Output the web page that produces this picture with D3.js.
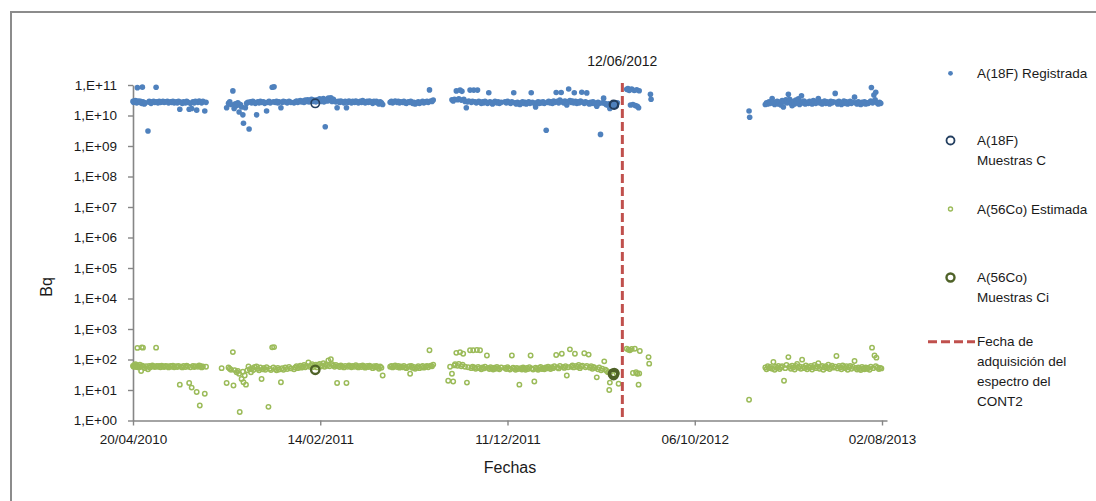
<!DOCTYPE html>
<html>
<head>
<meta charset="utf-8">
<script src="https://cdn.jsdelivr.net/npm/d3@7"></script>
<style>
  html, body { margin: 0; padding: 0; background: #ffffff; }
  svg text { font-family: "Liberation Sans", Arial, sans-serif; fill: #1a1a1a; }
</style>
</head>
<body>
<svg id="chart" width="1096" height="501"></svg>
<script>
// Measurement days are counted from the first day of the axis (20/04/2010).
const startDate = "20/04/2010";
const endDay = 1208;

const xTickLabels = ["20/04/2010", "14/02/2011", "11/12/2011", "06/10/2012", "02/08/2013"];
const yTickValues = [1e0, 1e1, 1e2, 1e3, 1e4, 1e5, 1e6, 1e7, 1e8, 1e9, 1e10, 1e11];
const yTickLabels = ["1,E+00", "1,E+01", "1,E+02", "1,E+03", "1,E+04", "1,E+05",
                     "1,E+06", "1,E+07", "1,E+08", "1,E+09", "1,E+10", "1,E+11"];

const spectrumDate = "12/06/2012";

// A(18F) Registrada: [day, Bq]
const registrada = [
  [0,2.9e10],[1,2.7e10],[2,3.0e10],[3,2.8e10],[4,3.1e10],[5,2.9e10],[6,2.6e10],[7,8.2e10],[8,2.8e10],[9,3.0e10],
  [11,2.7e10],[12,2.9e10],[14,2.5e10],[15,8.5e10],[16,2.8e10],[18,2.4e10],[20,2.6e10],[24,3.1e9],[26,2.9e10],[27,2.7e10],
  [29,2.5e10],[31,2.8e10],[33,2.9e10],[35,2.7e10],[37,8.4e10],[38,2.8e10],[40,2.6e10],[42,2.9e10],[44,2.7e10],[46,2.8e10],
  [48,2.9e10],[50,2.7e10],[52,2.8e10],[55,2.9e10],[57,2.6e10],[60,2.8e10],[62,2.7e10],[64,2.9e10],[66,2.6e10],[69,2.8e10],
  [71,2.6e10],[73,2.9e10],[75,1.6e10],[77,2.7e10],[79,2.5e10],[81,2.8e10],[84,2.6e10],[86,2.9e10],[88,2.7e10],[90,1.6e10],
  [92,2.5e10],[94,1.7e10],[96,2.8e10],[98,2.6e10],[100,2.9e10],[102,1.5e10],[104,2.7e10],[106,3.0e10],[108,2.8e10],[110,2.6e10],
  [112,2.9e10],[115,1.4e10],[117,2.7e10],
  [150,1.8e10],[153,2.5e10],[155,2.8e10],[157,2.3e10],[160,6.4e10],[162,1.7e10],[164,2.4e10],[166,2.1e10],[168,2.6e10],[170,1.3e10],
  [172,2.3e10],[174,1.9e10],[176,1.05e10],[177,5.6e9],[180,1.8e10],[182,2.5e10],[184,2.7e10],[186,3.6e9],[188,2.8e10],[190,2.6e10],
  [192,2.9e10],[194,2.7e10],[196,2.5e10],[198,1.05e10],[200,2.8e10],[202,2.6e10],[204,2.9e10],[206,2.7e10],[209,2.8e10],[211,2.5e10],
  [214,1.4e10],[216,2.7e10],[218,2.9e10],[220,2.6e10],[223,8.4e10],[225,2.8e10],[226,8.7e10],[228,2.7e10],[230,2.9e10],[232,2.6e10],
  [234,2.8e10],[237,1.8e10],[239,2.7e10],[241,2.9e10],[244,2.8e10],[247,2.6e10],[250,2.9e10],[253,2.7e10],[258,2.6e10],[260,2.8e10],
  [262,3.0e10],[264,2.7e10],[266,2.9e10],[268,3.1e10],[270,2.8e10],[272,3.0e10],[274,2.7e10],[276,3.2e10],[278,2.9e10],[280,3.3e10],
  [282,2.8e10],[284,3.1e10],[286,3.4e10],[288,2.9e10],[290,3.2e10],[293,2.8e10],[295,3.3e10],[297,3.0e10],[299,3.5e10],[301,2.9e10],
  [303,3.2e10],[305,3.6e10],[306,2.8e10],[308,4.3e9],[309,3.3e10],[311,3.0e10],[313,3.7e10],[315,3.1e10],[317,3.8e10],[319,2.9e10],
  [321,3.4e10],[323,3.0e10],[325,2.8e10],[327,1.8e10],[329,2.9e10],[331,2.7e10],[333,3.0e10],[335,2.8e10],[338,2.6e10],[340,2.9e10],
  [342,1.8e10],[344,2.7e10],[346,3.0e10],[348,2.8e10],[350,2.6e10],[352,2.9e10],[355,2.7e10],[357,3.0e10],[359,2.8e10],[361,2.6e10],
  [364,2.9e10],[366,2.7e10],[368,3.1e10],[370,2.8e10],[372,2.6e10],[375,2.9e10],[377,2.7e10],[379,3.0e10],[381,2.8e10],[384,2.5e10],
  [386,2.9e10],[388,2.7e10],[390,2.9e10],[392,2.6e10],[394,2.4e10],[396,2.8e10],[398,2.6e10],[400,2.3e10],[412,2.7e10],[414,2.9e10],
  [416,2.6e10],[418,2.8e10],[420,3.0e10],[423,2.7e10],[425,2.9e10],[427,2.6e10],[429,2.8e10],[432,2.7e10],[434,2.9e10],[436,2.6e10],
  [438,2.5e10],[441,2.8e10],[443,2.7e10],[445,2.9e10],[448,2.5e10],[450,2.7e10],[452,2.4e10],[455,2.6e10],[457,2.8e10],[459,2.5e10],
  [462,2.7e10],[464,2.9e10],[466,2.6e10],[469,2.8e10],[471,2.9e10],[473,2.7e10],[475,6.9e10],[477,3.0e10],[479,2.9e10],[481,3.2e10],
  [511,3.3e10],[513,3.0e10],[515,3.4e10],[518,6.4e10],[520,3.3e10],[522,3.5e10],[524,6.8e10],[526,3.2e10],[527,6.2e10],[530,3.4e10],
  [532,2.9e10],[534,1.8e10],[536,2.8e10],[538,3.0e10],[540,6.8e10],[542,2.7e10],[544,2.9e10],[546,6.8e10],[548,2.8e10],[550,2.6e10],
  [552,6.8e10],[554,2.9e10],[556,2.7e10],[558,2.5e10],[560,2.8e10],[562,2.6e10],[564,2.9e10],[566,2.7e10],[568,2.5e10],[570,5.6e10],
  [572,2.8e10],[574,2.6e10],[576,2.4e10],[578,2.7e10],[580,2.9e10],[583,2.6e10],[585,2.8e10],[587,2.5e10],[590,2.7e10],[596,2.8e10],
  [598,2.6e10],[600,2.9e10],[602,2.7e10],[605,2.5e10],[607,2.8e10],[610,5.6e10],[612,2.6e10],[614,2.4e10],[616,2.7e10],[618,2.5e10],
  [620,2.3e10],[622,2.6e10],[624,2.8e10],[626,2.5e10],[628,2.7e10],[630,2.4e10],[632,2.6e10],[634,2.8e10],[636,2.5e10],[638,5.6e10],
  [640,2.7e10],[643,2.5e10],[645,1.9e10],[647,2.6e10],[649,2.8e10],[651,2.5e10],[653,2.7e10],[655,2.6e10],[657,2.8e10],[659,2.5e10],
  [662,3.3e9],[664,2.7e10],[666,2.9e10],[668,2.6e10],[670,2.8e10],[672,2.5e10],[674,3.0e10],[676,2.7e10],[678,5.7e10],[680,2.9e10],
  [682,2.6e10],[684,3.2e10],[686,5.7e10],[688,2.8e10],[690,2.6e10],[692,3.0e10],[695,2.2e10],[697,2.8e10],[698,7.4e10],[700,3.1e10],
  [702,2.7e10],[704,3.0e10],[706,2.6e10],[707,5.6e10],[709,2.9e10],[711,2.5e10],[713,2.8e10],[715,2.6e10],[717,3.0e10],[719,5.8e10],
  [721,2.7e10],[723,2.5e10],[725,2.8e10],[727,5.5e10],[729,2.6e10],[731,2.4e10],[733,2.7e10],[735,2.5e10],[737,2.8e10],[739,2.6e10],
  [741,2.4e10],[743,2.0e10],[745,2.7e10],[747,2.5e10],[749,2.4e9],[752,2.6e10],[754,3.7e10],[756,2.5e10],[758,2.3e10],[760,2.2e10],
  [762,2.4e10],[764,1.7e10],[766,2.3e10],[768,2.0e10],[772,2.5e10],[774,2.1e10],[776,2.6e10],[791,7.2e10],[793,7.7e10],[795,6.6e10],
  [797,2.2e10],[799,7.3e10],[801,2.3e10],[803,6.6e10],[805,2.1e10],[807,7.0e10],[808,2.0e10],[810,1.8e10],[811,6.5e10],[829,5.0e10],
  [830,3.4e10],
  [987,1.4e10],[988,8.8e9],
  [1013,2.3e10],[1015,2.6e10],[1017,2.4e10],[1019,2.8e10],[1021,2.5e10],[1024,3.6e10],[1026,2.7e10],[1028,2.3e10],[1030,2.6e10],[1032,2.9e10],
  [1034,2.4e10],[1036,2.7e10],[1038,2.2e10],[1040,3.1e10],[1042,1.9e10],[1044,2.8e10],[1046,3.3e10],[1048,2.6e10],[1050,5.0e10],[1052,3.4e10],
  [1054,2.5e10],[1056,2.1e10],[1058,2.9e10],[1060,2.4e10],[1062,3.2e10],[1064,2.7e10],[1066,3.5e10],[1068,2.3e10],[1070,2.8e10],[1071,4.4e10],
  [1073,2.6e10],[1075,3.0e10],[1077,2.4e10],[1080,2.7e10],[1082,2.5e10],[1084,2.9e10],[1086,2.6e10],[1088,2.4e10],[1090,3.1e10],[1092,2.7e10],
  [1094,2.5e10],[1096,3.0e10],[1098,3.6e10],[1100,2.6e10],[1102,2.8e10],[1104,2.4e10],[1106,2.7e10],[1108,3.0e10],[1110,2.5e10],[1112,2.8e10],
  [1114,2.6e10],[1116,2.4e10],[1118,2.9e10],[1120,2.6e10],[1122,2.8e10],[1125,5.3e10],[1127,2.7e10],[1129,2.4e10],[1131,2.9e10],[1133,2.6e10],
  [1135,2.3e10],[1137,2.7e10],[1139,3.0e10],[1141,2.5e10],[1143,2.8e10],[1145,2.4e10],[1147,2.6e10],[1149,2.9e10],[1151,2.5e10],[1153,2.7e10],
  [1156,4.0e10],[1158,2.6e10],[1160,2.4e10],[1162,2.8e10],[1164,2.5e10],[1166,2.3e10],[1168,2.7e10],[1170,2.5e10],[1172,2.8e10],[1174,2.4e10],
  [1176,2.6e10],[1178,2.5e10],[1180,2.7e10],[1182,3.0e10],[1183,8.3e10],[1185,2.6e10],[1187,4.7e10],[1189,3.3e10],[1190,5.8e10],[1192,2.6e10],
  [1194,2.4e10],[1196,2.7e10],[1198,2.5e10]
];

// A(18F) Muestras C: [day, Bq]
const muestrasC = [[292,2.5e10],[770,2.3e10],[771,2.2e10]];

// A(56Co) Estimada: [day, Bq]
const estimada = [
  [0,62],[1,58],[2,66],[3,60],[4,70],[5,57],[6,64],[7,240],[8,61],[9,55],[11,68],[12,59],[13,42],[14,250],[15,63],[16,245],
  [17,57],[19,52],[21,60],[24,48],[26,62],[27,55],[29,58],[31,64],[33,60],[35,57],[37,245],[38,62],[40,58],[42,61],[44,56],
  [46,63],[48,59],[50,57],[52,62],[55,60],[57,55],[60,61],[62,58],[64,63],[66,56],[69,60],[71,57],[73,62],[75,15],[77,58],
  [79,55],[81,61],[84,57],[86,63],[88,59],[90,17],[92,56],[94,12],[96,62],[98,57],[100,60],[102,8.6],[104,58],[106,64],
  [107,3.1],[108,61],[110,55],[112,59],[115,7.5],[117,58],
  [142,52],[150,17],[153,55],[155,50],[157,46],[160,175],[161,14],[163,45],[166,38],[168,42],[170,34],[171,1.9],[174,23],
  [176,40],[177,18],[179,30],[181,15],[183,44],[185,59],[187,48],[189,38],[191,52],[193,45],[195,57],[198,59],[200,50],
  [202,44],[204,55],[206,23],[208,48],[210,53],[212,46],[214,56],[217,2.8],[219,50],[221,45],[223,250],[225,55],[226,255],
  [228,49],[230,44],[232,53],[234,47],[237,18],[239,52],[241,46],[244,55],[247,49],[250,57],[253,51],[258,48],[260,55],
  [262,60],[264,52],[266,57],[268,63],[270,54],[272,59],[274,66],[276,56],[278,61],[281,80],[283,58],[285,64],[287,70],
  [289,57],[291,62],[293,68],[295,55],[297,66],[299,72],[301,59],[303,64],[305,75],[307,58],[309,67],[311,62],[313,93],
  [315,60],[317,102],[319,70],[321,64],[323,58],[325,66],[327,17],[329,62],[331,57],[333,64],[335,59],[338,55],[340,62],
  [342,17],[344,58],[346,64],[348,60],[350,56],[352,62],[355,58],[357,65],[359,60],[361,55],[364,62],[366,57],[368,64],
  [370,59],[372,54],[375,61],[377,57],[379,63],[381,58],[384,52],[386,60],[388,56],[390,62],[392,57],[394,50],[396,59],
  [398,54],[400,30],[412,58],[414,62],[416,55],[418,60],[420,64],[423,57],[425,61],[427,54],[429,59],[432,56],[434,62],
  [436,55],[438,52],[441,58],[443,60],[444,34],[446,62],[448,53],[450,57],[452,50],[455,55],[457,60],[459,52],[462,57],
  [464,61],[466,54],[469,58],[471,62],[473,56],[475,200],[477,63],[479,60],[481,68],
  [505,20],[508,58],[511,34],[513,19],[515,64],[516,70],[518,165],[520,62],[522,72],[524,175],[526,60],[528,67],[529,155],
  [532,58],[535,17.5],[537,56],[540,200],[542,52],[544,58],[545,200],[547,55],[549,50],[551,205],[553,57],[555,52],[556,200],
  [558,48],[560,55],[562,51],[564,58],[567,135],[569,53],[571,49],[573,56],[575,52],[577,47],[579,54],[581,50],[583,57],
  [585,52],[587,48],[590,55],[596,53],[598,49],[600,56],[602,51],[604,47],[607,135],[609,54],[611,50],[613,46],[615,53],
  [617,49],[619,15],[621,52],[623,47],[625,55],[627,50],[629,46],[631,53],[633,49],[635,56],[637,135],[639,51],[641,47],
  [643,19],[645,54],[647,50],[649,46],[651,53],[653,57],[655,49],[657,52],[659,48],[661,55],[663,51],[665,58],[667,53],
  [669,49],[671,56],[673,52],[675,60],[678,140],[680,55],[682,51],[684,62],[687,155],[689,57],[691,53],[693,60],[695,30],
  [697,56],[700,215],[702,58],[704,64],[706,55],[708,155],[710,61],[712,57],[714,66],[716,52],[718,59],[720,63],[723,160],
  [725,56],[727,61],[730,145],[732,54],[734,60],[736,50],[738,57],[740,53],[743,26],[745,48],[747,55],[750,44],[752,50],
  [755,87],[757,46],[759,42],[761,38],[763,10],[764,17.5],[766,40],[775,34],[778,16],[791,225],[794,210],[796,200],[799,220],
  [801,36],[804,225],[806,38],[808,34],[810,15],[811,35],[812,190],[826,120],[827,73],
  [987,4.8],
  [1013,55],[1015,48],[1017,60],[1019,52],[1021,57],[1024,50],[1026,83],[1028,46],[1030,58],[1032,53],[1034,62],[1036,49],
  [1038,56],[1040,60],[1043,20],[1045,52],[1047,66],[1050,120],[1052,58],[1054,50],[1056,63],[1058,55],[1060,47],[1062,61],
  [1064,72],[1066,54],[1068,59],[1070,50],[1072,99],[1074,57],[1076,52],[1078,64],[1080,48],[1082,58],[1084,54],[1086,61],
  [1088,47],[1090,56],[1092,66],[1094,52],[1096,59],[1098,75],[1100,50],[1102,57],[1104,62],[1106,46],[1108,55],[1110,60],
  [1112,52],[1114,68],[1116,49],[1118,57],[1120,63],[1122,54],[1125,58],[1127,130],[1129,51],[1131,61],[1133,55],[1135,48],
  [1137,64],[1139,57],[1141,52],[1143,60],[1145,46],[1147,56],[1149,62],[1151,50],[1153,58],[1156,89],[1158,53],[1160,47],
  [1162,55],[1164,49],[1166,45],[1168,57],[1170,51],[1172,48],[1174,55],[1176,50],[1178,53],[1180,46],[1182,58],[1184,245],
  [1186,52],[1188,135],[1190,60],[1191,115],[1193,55],[1195,49],[1197,53],[1199,51]
];

// A(56Co) Muestras Ci: [day, Bq]
const muestrasCi = [[292,46],[769,34],[770,31],[771,36]];

const legendItems = [
  { kind: "dot",    lines: ["A(18F) Registrada"] },
  { kind: "ringC",  lines: ["A(18F)", "Muestras C"] },
  { kind: "ringE",  lines: ["A(56Co) Estimada"] },
  { kind: "ringCi", lines: ["A(56Co)", "Muestras Ci"] },
  { kind: "dash",   lines: ["Fecha de", "adquisición del", "espectro del", "CONT2"] }
];

const colors = {
  reg: "#4F81BD",
  regSample: "#243F60",
  est: "#9BBB59",
  estSample: "#4F6228",
  line: "#C0504D",
  axis: "#868686",
  frame: "#8C8C8C"
};

const parseDay = d3.utcParse("%d/%m/%Y");
const formatDay = d3.utcFormat("%d/%m/%Y");
const t0 = parseDay(startDate);
const toDate = day => d3.utcDay.offset(t0, day);

const svg = d3.select("#chart");

// outer frame (top and left edges)
svg.append("path")
  .attr("d", "M11,520 L11,12 L1110,12")
  .attr("fill", "none")
  .attr("stroke", colors.frame)
  .attr("stroke-width", 2);

const x = d3.scaleUtc()
  .domain([t0, toDate(endDay)])
  .range([133, 887]);

const y = d3.scaleLog()
  .domain([1, 1e11])
  .range([420.5, 85]);

// axes
const xAxis = d3.axisBottom(x)
  .tickValues(xTickLabels.map(parseDay))
  .tickFormat(formatDay)
  .tickSize(5)
  .tickSizeOuter(0)
  .tickPadding(9);

const yAxis = d3.axisLeft(y)
  .tickValues(yTickValues)
  .tickFormat((d, i) => yTickLabels[i])
  .tickSize(5)
  .tickSizeOuter(0)
  .tickPadding(11);

const gx = svg.append("g").attr("transform", `translate(0,${y(1)})`).call(xAxis);
const gy = svg.append("g").attr("transform", `translate(133,0)`).call(yAxis);

[gx, gy].forEach(g => {
  g.select(".domain").attr("stroke", colors.axis).attr("stroke-width", 1.6);
  g.selectAll(".tick line").attr("stroke", colors.axis).attr("stroke-width", 1.4);
  g.selectAll(".tick text")
    .attr("fill", "#1a1a1a")
    .style("font-family", '"Liberation Sans", Arial, sans-serif')
    .style("font-size", "13.5px");
});

// axis titles
svg.append("text")
  .attr("x", 510).attr("y", 467)
  .attr("text-anchor", "middle")
  .attr("dominant-baseline", "central")
  .style("font-size", "16px")
  .text("Fechas");

svg.append("text")
  .attr("transform", "translate(46,287) rotate(-90)")
  .attr("text-anchor", "middle")
  .attr("dominant-baseline", "central")
  .style("font-size", "16px")
  .text("Bq");

const plot = svg.append("g");

// A(18F) Registrada
plot.append("g").selectAll("circle")
  .data(registrada)
  .join("circle")
  .attr("cx", d => x(toDate(d[0])))
  .attr("cy", d => y(d[1]))
  .attr("r", 2.8)
  .attr("fill", colors.reg);

// A(18F) Muestras C
plot.append("g").selectAll("circle")
  .data(muestrasC)
  .join("circle")
  .attr("cx", d => x(toDate(d[0])))
  .attr("cy", d => y(d[1]))
  .attr("r", 4.2)
  .attr("fill", "none")
  .attr("stroke", colors.regSample)
  .attr("stroke-width", 1.6);

// A(56Co) Estimada
plot.append("g").selectAll("circle")
  .data(estimada)
  .join("circle")
  .attr("cx", d => x(toDate(d[0])))
  .attr("cy", d => y(d[1]))
  .attr("r", 2.2)
  .attr("fill", "none")
  .attr("stroke", colors.est)
  .attr("stroke-width", 1.5);

// A(56Co) Muestras Ci
plot.append("g").selectAll("circle")
  .data(muestrasCi)
  .join("circle")
  .attr("cx", d => x(toDate(d[0])))
  .attr("cy", d => y(d[1]))
  .attr("r", 4.2)
  .attr("fill", "none")
  .attr("stroke", colors.estSample)
  .attr("stroke-width", 2.4);

// spectrum acquisition date
const xs = x(parseDay(spectrumDate));
plot.append("line")
  .attr("x1", xs).attr("x2", xs)
  .attr("y1", y(1e11) - 2).attr("y2", y(1))
  .attr("stroke", colors.line)
  .attr("stroke-width", 3)
  .attr("stroke-dasharray", "9,4");

svg.append("text")
  .attr("x", xs).attr("y", 61)
  .attr("text-anchor", "middle")
  .attr("dominant-baseline", "central")
  .style("font-size", "14px")
  .text(spectrumDate);

// legend
const legendRows = [73.3, 140.5, 209, 277.5, 341.7];
const legend = svg.append("g");
legendItems.forEach((item, i) => {
  const cy = legendRows[i];
  const g = legend.append("g");
  if (item.kind === "dot") {
    g.append("circle").attr("cx", 950.5).attr("cy", cy).attr("r", 2.4).attr("fill", colors.reg);
  } else if (item.kind === "ringC") {
    g.append("circle").attr("cx", 950.5).attr("cy", cy).attr("r", 4).attr("fill", "none")
      .attr("stroke", colors.regSample).attr("stroke-width", 1.8);
  } else if (item.kind === "ringE") {
    g.append("circle").attr("cx", 950.5).attr("cy", cy).attr("r", 2).attr("fill", "none")
      .attr("stroke", colors.est).attr("stroke-width", 1.4);
  } else if (item.kind === "ringCi") {
    g.append("circle").attr("cx", 950.5).attr("cy", cy).attr("r", 4).attr("fill", "none")
      .attr("stroke", colors.estSample).attr("stroke-width", 2.4);
  } else if (item.kind === "dash") {
    g.append("line").attr("x1", 928).attr("x2", 975).attr("y1", cy).attr("y2", cy)
      .attr("stroke", colors.line).attr("stroke-width", 3).attr("stroke-dasharray", "9,4");
  }
  item.lines.forEach((line, j) => {
    g.append("text")
      .attr("x", 977)
      .attr("y", cy + j * 20)
      .attr("dominant-baseline", "central")
      .style("font-size", "13.5px")
      .text(line);
  });
});
</script>
</body>
</html>
